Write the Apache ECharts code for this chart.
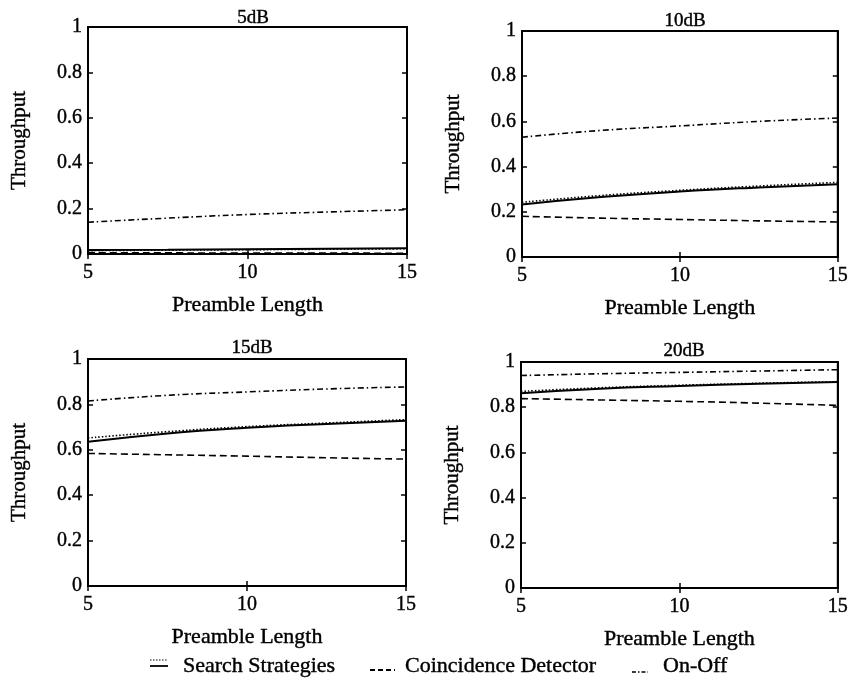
<!DOCTYPE html>
<html><head><meta charset="utf-8">
<script src="https://cdn.jsdelivr.net/npm/echarts@6/dist/echarts.min.js"></script>
<style>html,body{margin:0;padding:0;background:#fff}#c{width:851px;height:682px}</style>
</head><body><div id="c"></div>
<script>
// Data
const preamble = [5, 7.5, 10, 12.5, 15];
const panelTitles = ['5dB', '10dB', '15dB', '20dB'];
const xTicks = [5, 10, 15];
const yTicks = [0, 0.2, 0.4, 0.6, 0.8, 1];

const search5 = [0.018, 0.019, 0.021, 0.023, 0.025];
const searchDot5 = [0.015, 0.017, 0.019, 0.021, 0.023];
const coinc5 = [0.006, 0.005, 0.004, 0.004, 0.003];
const onoff5 = [0.14, 0.158, 0.174, 0.185, 0.195];

const search10 = [0.232, 0.265, 0.29, 0.308, 0.322];
const searchDot10 = [0.242, 0.272, 0.295, 0.314, 0.33];
const coinc10 = [0.18, 0.172, 0.166, 0.16, 0.155];
const onoff10 = [0.53, 0.56, 0.58, 0.60, 0.615];

const search15 = [0.635, 0.672, 0.697, 0.714, 0.728];
const searchDot15 = [0.652, 0.68, 0.702, 0.718, 0.733];
const coinc15 = [0.584, 0.578, 0.572, 0.565, 0.559];
const onoff15 = [0.815, 0.84, 0.855, 0.868, 0.877];

const search20 = [0.862, 0.882, 0.894, 0.904, 0.911];
const searchDot20 = [0.87, 0.886, 0.897, 0.906, 0.913];
const coinc20 = [0.838, 0.832, 0.826, 0.818, 0.808];
const onoff20 = [0.94, 0.948, 0.954, 0.96, 0.966];

const legendNames = ['Search Strategies', 'Coincidence Detector', 'On-Off'];

const panels = [
  {search: search5, dot: searchDot5, coinc: coinc5, onoff: onoff5},
  {search: search10, dot: searchDot10, coinc: coinc10, onoff: onoff10},
  {search: search15, dot: searchDot15, coinc: coinc15, onoff: onoff15},
  {search: search20, dot: searchDot20, coinc: coinc20, onoff: onoff20}
];

const FONT = '"Liberation Serif", "DejaVu Serif", serif';
const heavy = {textBorderColor: '#000', textBorderWidth: 0.4};
const grids = [
  {left: 88, top: 27, width: 319, height: 227},
  {left: 522, top: 31, width: 316, height: 226},
  {left: 88, top: 359, width: 318, height: 227},
  {left: 521, top: 362, width: 317, height: 226}
];
const titlePos = [
  {x: 248, y: 4}, {x: 680, y: 7}, {x: 247, y: 334}, {x: 679, y: 337}
];

const pair = arr => arr.map((v, i) => [preamble[i], v]);

const option = {
  animation: false,
  backgroundColor: '#fff',
  title: panelTitles.map((t, i) => ({
    text: t, left: titlePos[i].x, top: titlePos[i].y, textAlign: 'center',
    textStyle: Object.assign({fontFamily: FONT, fontSize: 19, fontWeight: 'normal', color: '#000'}, heavy)
  })),
  grid: grids.map(g => Object.assign({show: true, borderColor: '#000', borderWidth: 2, backgroundColor: 'transparent'}, g)),
  xAxis: [],
  yAxis: [],
  series: [],
  graphic: []
};

grids.forEach((g, i) => {
  const xBase = {
    type: 'value', gridIndex: i, min: xTicks[0], max: xTicks[xTicks.length - 1], interval: xTicks[1] - xTicks[0],
    splitLine: {show: false},
    axisLine: {show: true, lineStyle: {color: '#000', width: 2}},
    axisTick: {show: true, inside: true, length: 5, lineStyle: {color: '#000', width: 1.5}}
  };
  option.xAxis.push(Object.assign({}, xBase, {
    position: 'bottom',
    name: 'Preamble Length', nameLocation: 'middle', nameGap: 40,
    nameTextStyle: Object.assign({fontFamily: FONT, fontSize: 22, color: '#000'}, heavy),
    axisLabel: Object.assign({fontFamily: FONT, fontSize: 20, color: '#000', margin: 9}, heavy)
  }));
  option.xAxis.push(Object.assign({}, xBase, {position: 'top', axisLabel: {show: false}}));
  const yBase = {
    type: 'value', gridIndex: i, min: yTicks[0], max: yTicks[yTicks.length - 1], interval: yTicks[1] - yTicks[0],
    splitLine: {show: false},
    axisLine: {show: true, lineStyle: {color: '#000', width: 2}},
    axisTick: {show: true, inside: true, length: 5, lineStyle: {color: '#000', width: 1.5}}
  };
  option.yAxis.push(Object.assign({}, yBase, {
    position: 'left',
    name: 'Throughput', nameLocation: 'middle', nameGap: 58, nameRotate: 90,
    nameTextStyle: Object.assign({fontFamily: FONT, fontSize: 21, color: '#000'}, heavy),
    axisLabel: Object.assign({fontFamily: FONT, fontSize: 20, color: '#000', margin: 6}, heavy)
  }));
  option.yAxis.push(Object.assign({}, yBase, {position: 'right', axisLabel: {show: false}}));

  const p = panels[i];
  const xi = 2 * i, yi = 2 * i;
  const mk = (name, data, type, width) => ({
    name, type: 'line', xAxisIndex: xi, yAxisIndex: yi, data: pair(data),
    smooth: true, symbol: 'none', silent: true,
    lineStyle: {color: '#000', width: width, type: type}
  });
  option.series.push(mk(legendNames[0], p.search, 'solid', 2));
  option.series.push(mk(legendNames[0] + ' (dotted)', p.dot, [1.5, 2], 1.6));
  option.series.push(mk(legendNames[1], p.coinc, [7, 4], 1.6));
  option.series.push(mk(legendNames[2], p.onoff, [6, 3, 1.5, 3], 1.6));
});

// Legend (drawn as graphics)
const lineG = (x1, y1, x2, y2, dash, w) => ({
  type: 'line', shape: {x1, y1, x2, y2},
  style: {stroke: '#000', lineWidth: w, lineDash: dash}
});
const textG = (x, y, txt) => ({
  type: 'text', x, y,
  style: {text: txt, font: '22px ' + FONT, fill: '#000', stroke: '#000', lineWidth: 0.4, verticalAlign: 'middle', textVerticalAlign: 'middle'}
});
option.graphic = [
  lineG(150, 660, 168, 660, [1.5, 1.5], 1.2),
  lineG(150, 666, 168, 666, null, 1.8),
  textG(183, 666, legendNames[0]),
  lineG(370, 670, 395, 670, [5, 3], 1.8),
  textG(405, 666, legendNames[1]),
  lineG(632, 672, 648, 672, [4, 2, 1.5, 2], 1.6),
  textG(663, 666, legendNames[2])
];

const chart = echarts.init(document.getElementById('c'), null, {renderer: 'canvas'});
chart.setOption(option);
</script>
</body></html>
